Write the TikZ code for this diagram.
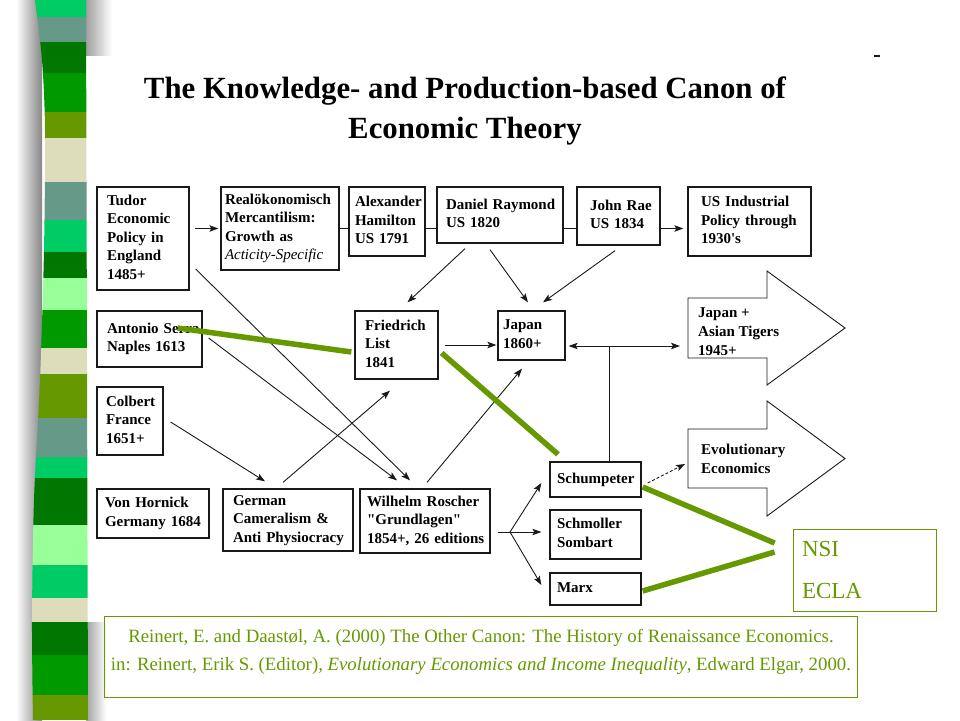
\documentclass[tikz,border=0pt]{standalone}
\usepackage{fontspec}
\setmainfont{Liberation Serif}
\usetikzlibrary{calc,arrows.meta}
\definecolor{olv}{RGB}{102,153,0}
\definecolor{mgr}{RGB}{0,204,102}
\definecolor{tea}{RGB}{102,153,136}
\definecolor{dgr}{RGB}{0,119,0}
\definecolor{grn}{RGB}{0,153,0}
\definecolor{bge}{RGB}{221,221,187}
\definecolor{lgr}{RGB}{153,255,153}
\definecolor{ink}{RGB}{25,25,25}
\newcommand\lns[1]{\begin{tabular}{@{}l@{}}#1\end{tabular}}
\begin{document}
\begin{tikzpicture}[x=1pt,y=-1pt,
  bx/.style={draw=ink, line width=1.3pt, fill=white, align=left, inner ysep=0pt,
    font=\fontsize{15}{18.5}\selectfont\bfseries},
  txt/.style={align=left, inner sep=0pt, anchor=west, font=\fontsize{15}{19}\selectfont\bfseries},
  ln/.style={draw=ink, line width=0.9pt},
  arr/.style={draw=ink, line width=0.9pt, -{Stealth[length=9pt,width=6.5pt,inset=2pt]}},
  gl/.style={draw=olv, line width=5.5pt},
  bigarrow/.style={draw=ink, line width=0.9pt, fill=white}]
\useasboundingbox (0,0) rectangle (960,720);
\fill[white] (0,0) rectangle (960,720);
% shadows
\shade[left color=white, right color=gray!95] (16,0) rectangle (42,720);
\shade[left color=gray!75, right color=white] (86,0) rectangle (112,55);
\shade[left color=gray!75, right color=white] (86,622) rectangle (106,720);
% stripe
\begin{scope}
\clip plot[smooth] coordinates {(35,0)(42,60)(45,130)(44,250)(40,380)(34,500)(32,620)(33,720)} -- (88,720) -- (86,0) -- cycle;
\fill[mgr] (0,0) rectangle (100,17);
\fill[tea] (0,17) rectangle (100,42);
\fill[dgr] (0,42) rectangle (100,73);
\fill[grn] (0,73) rectangle (100,112);
\fill[olv] (0,112) rectangle (100,138);
\fill[bge] (0,138) rectangle (100,182);
\fill[tea] (0,182) rectangle (100,220);
\fill[mgr] (0,220) rectangle (100,252);
\fill[dgr] (0,252) rectangle (100,278);
\fill[lgr] (0,278) rectangle (100,310);
\fill[grn] (0,310) rectangle (100,348);
\fill[bge] (0,348) rectangle (100,374);
\fill[olv] (0,374) rectangle (100,418);
\fill[tea] (0,418) rectangle (100,457);
\fill[mgr] (0,457) rectangle (100,478);
\fill[dgr] (0,478) rectangle (100,525);
\fill[lgr] (0,525) rectangle (100,565);
\fill[mgr] (0,565) rectangle (100,598);
\fill[bge] (0,598) rectangle (100,622);
\fill[dgr] (0,622) rectangle (100,655);
\fill[grn] (0,655) rectangle (100,695);
\fill[olv] (0,695) rectangle (100,720);
\end{scope}
\draw[ink, line width=1.2pt] (874,56) -- (880,56);
% title
\node[font=\fontsize{30.8}{40}\selectfont\bfseries, align=center] (title) at (465,111)
  {The Knowledge- and Production-based Canon of\\Economic Theory};
% boxes
\node[bx, text width=72pt, inner xsep=10pt, minimum height=103pt] (tudor) at (143,238.5)
  {\lns{Tudor\\Economic\\Policy in\\England\\1485+}};
\node[bx, text width=110pt, inner xsep=4pt, minimum height=83pt] (real) at (280,228.5)
  {\lns{Realökonomisch\\Mercantilism:\\Growth as\\{\mdseries\itshape Acticity-Specific}}};
\node[bx, text width=64pt, inner xsep=6pt, minimum height=69pt] (hamilton) at (387,221.5)
  {\lns{Alexander\\Hamilton\\US 1791}};
\node[bx, text width=108pt, inner xsep=9pt, minimum height=56pt] (daniel) at (500,215)
  {\lns{Daniel Raymond\\US 1820}};
\node[bx, text width=57pt, inner xsep=13pt, minimum height=58pt] (rae) at (618.5,216)
  {\lns{John Rae\\US 1834}};
\node[bx, text width=97pt, inner xsep=13pt, minimum height=69pt] (usind) at (749.5,221.5)
  {\lns{US Industrial\\Policy through\\1930\textquotesingle s}};
\node[bx, text width=85pt, inner xsep=10pt, minimum height=56pt] (serra) at (149.5,339)
  {\lns{Antonio Serra\\Naples 1613}};
\node[bx, text width=63pt, inner xsep=10pt, minimum height=68pt] (list) at (396.5,345)
  {\lns{Friedrich\\List\\1841}};
\node[bx, text width=57pt, inner xsep=5pt, minimum height=49pt] (japan) at (531.5,335.5)
  {\lns{Japan\\1860+}};
\node[bx, text width=48pt, inner xsep=9pt, minimum height=68pt] (colbert) at (130,421)
  {\lns{Colbert\\France\\1651+}};
\node[bx, text width=96pt, inner xsep=8pt, minimum height=49pt] (hornick) at (153,513.5)
  {\lns{Von Hornick\\Germany 1684}};
\node[bx, text width=110pt, inner xsep=10pt, minimum height=62pt] (german) at (288,520)
  {\lns{German\\Cameralism \&\\Anti Physiocracy}};
\node[bx, text width=116pt, inner xsep=7pt, minimum height=64pt] (roscher) at (425,521)
  {\lns{Wilhelm Roscher\\\textquotedbl Grundlagen\textquotedbl\\1854+, 26 editions}};
\node[bx, text width=77pt, inner xsep=7pt, minimum height=35pt] (schump) at (595.5,479.5)
  {\lns{Schumpeter}};
\node[bx, text width=77pt, inner xsep=7pt, minimum height=49pt] (schmoller) at (595.5,534.5)
  {\lns{Schmoller\\Sombart}};
\node[bx, text width=77pt, inner xsep=7pt, minimum height=32pt] (marx) at (595.5,589)
  {\lns{Marx}};
% big arrows
\draw[bigarrow] (688,298) -- (767,298) -- (767,271) -- (845,328) -- (767,385) -- (767,358) -- (688,358) -- cycle;
\coordinate (jpw) at (688,346);
\node[txt] (jptext) at (698,331.5) {Japan +\\Asian Tigers\\1945+};
\draw[bigarrow] (688,429) -- (767,429) -- (767,401) -- (845,458.5) -- (767,516) -- (767,488) -- (688,488) -- cycle;
\coordinate (evw) at (688,458.5);
\node[txt] (evtext) at (701,459) {Evolutionary\\Economics};
% top row connectors
\draw[arr, shorten <=5pt, shorten >=2pt] (tudor.east |- real.west) -- (real.west);
\draw[ln] (real.east) -- (real.east -| hamilton.west);
\draw[ln] (hamilton.east |- real.east) -- (daniel.west |- real.east);
\draw[ln] (daniel.east |- real.east) -- (rae.west |- real.east);
\draw[arr, shorten >=4pt] (rae.east |- real.east) -- (usind.west |- real.east);
% arrows into List and Japan
\draw[arr] ($(daniel.south)+(-35,5)$) -- ($(list.north)+(11,-8)$);
\draw[arr] ($(daniel.south)+(-10,6)$) -- ($(japan.north)+(-3.5,-8)$);
\draw[arr] ($(rae.south)+(-3.5,5)$) -- ($(japan.north)+(11.5,-8)$);
\draw[arr, shorten <=6pt, shorten >=1pt] (list.east) -- (japan.west |- list.east);
% junction from Schumpeter
\coordinate (jn) at (609,346);
\draw[ln] (schump.north -| jn) -- (jn);
\draw[arr, shorten >=3pt] (jn) -- (japan.east |- jn);
\draw[arr, shorten >=8pt] (jn) -- (jpw);
\draw[arr, dashed, dash pattern=on 3pt off 2pt] ($(schump.east)+(6,3.5)$) -- ($(evw)+(-3,5.5)$);
% Roscher branches
\coordinate (bp) at (510,532);
\draw[ln, shorten <=7pt] (roscher.east |- bp) -- (bp);
\draw[arr] (bp) -- ($(schump.west)+(-8,3.5)$);
\draw[arr, shorten >=8pt] (bp) -- (bp -| schmoller.west);
\draw[arr] (bp) -- ($(marx.west)+(-8,-4)$);
% diagonal arrows
\draw[arr] ($(roscher.north)+(2,-6)$) -- ($(japan.south)+(-9.5,8)$);
\draw[arr] ($(german.north)+(-5,-6)$) -- ($(list.south)+(-6.5,11)$);
\draw[arr] ($(colbert.east)+(7,1)$) -- ($(german.north)+(-23,-7)$);
\draw[arr] ($(tudor.east)+(6,30.5)$) -- ($(roscher.north)+(-15,-8)$);
\draw[arr] ($(serra.east)+(6,-1)$) -- ($(roscher.north)+(-28,-8)$);
% NSI box
\node[draw=olv, line width=0.8pt, text=olv, align=left, text width=125pt, inner xsep=9pt,
  minimum height=82pt, font=\fontsize{23}{42}\selectfont] (nsi) at (864.5,570) {NSI\\ECLA};
% green lines
\draw[gl] ($(serra.east)+(-25,-11)$) -- ($(list.west)+(-3,7)$);
\draw[gl] ($(list.east)+(3,8)$) -- ($(schump.north)+(-37.5,-7)$);
\draw[gl] ($(schump.east)+(1,7.5)$) -- ($(nsi.west)+(-18,-27)$);
\draw[gl] ($(marx.east)+(1,2)$) -- ($(nsi.west)+(-18,-18)$);
% citation
\node[draw=olv, line width=0.8pt, minimum width=753pt, minimum height=81pt] (cite) at (480.5,656.5) {};
\node[text=olv, align=center, font=\fontsize{18.8}{28}\selectfont] (citetext) at (481,652)
  {Reinert, E. and Daastøl, A. (2000) The Other Canon: The History of Renaissance Economics.\\
   in: Reinert, Erik S. (Editor), \textit{Evolutionary Economics and Income Inequality}, Edward Elgar, 2000.};
\end{tikzpicture}
\end{document}
